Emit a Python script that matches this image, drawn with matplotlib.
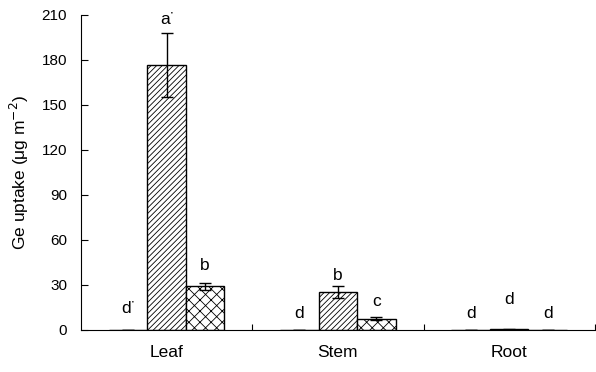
import numpy as np
import matplotlib.pyplot as plt

plt.rcParams['font.family'] = ['Liberation Sans', 'DejaVu Sans']
plt.rcParams['hatch.linewidth'] = 0.6

categories = ['Leaf', 'Stem', 'Root']
s1 = [0, 0, 0]
s1_err = [0, 0, 0]
s2 = [176.5, 25.0, 0.6]
s2_err = [21.5, 4.0, 0.3]
s3 = [29.0, 7.5, 0.0]
s3_err = [2.5, 1.0, 0.0]
letters = [['d$^{\\cdot}$', 'a$^{\\cdot}$', 'b'], ['d', 'b', 'c'], ['d', 'd', 'd']]
letter_y = [[11, 203, 40], [8, 33, 16], [8, 17, 8]]

fig = plt.figure(figsize=(5.96, 3.72), dpi=100)
ax = fig.add_axes([0.136, 0.113, 0.862, 0.847])

x = np.arange(len(categories)) + 0.5
w = 0.225
series = [(s1, s1_err, ''), (s2, s2_err, '//////'), (s3, s3_err, 'xxx')]
for i, (vals, errs, h) in enumerate(series):
    xs = x + (i - 1) * w
    ax.bar(xs, vals, w, color='white', edgecolor='black', hatch=h, linewidth=1.0)
    ax.errorbar(xs, vals, yerr=errs, fmt='none', ecolor='black', elinewidth=1.0,
                capsize=4, capthick=1.0)
    for j in range(len(categories)):
        ax.text(xs[j], letter_y[j][i], letters[j][i], ha='center', va='baseline', fontsize=12.5)

ax.set_xlim(0, 3)
ax.set_ylim(0, 210)
ax.set_yticks(np.arange(0, 211, 30))
ax.set_xticks([1, 2, 3])
ax.set_xticklabels([])
ax.set_xticks(x, minor=True)
ax.set_xticklabels(categories, minor=True)
ax.tick_params(axis='x', which='minor', length=0, pad=11, labelsize=12.5)
ax.tick_params(axis='x', which='major', direction='in', length=4)
ax.tick_params(axis='y', direction='in', length=5, pad=10, labelsize=11)
ax.spines['top'].set_visible(False)
ax.spines['right'].set_visible(False)
ax.set_ylabel('Ge uptake (μg m$^{-2}$)', fontsize=12.5, labelpad=8)

plt.savefig('out.png', dpi=100)
